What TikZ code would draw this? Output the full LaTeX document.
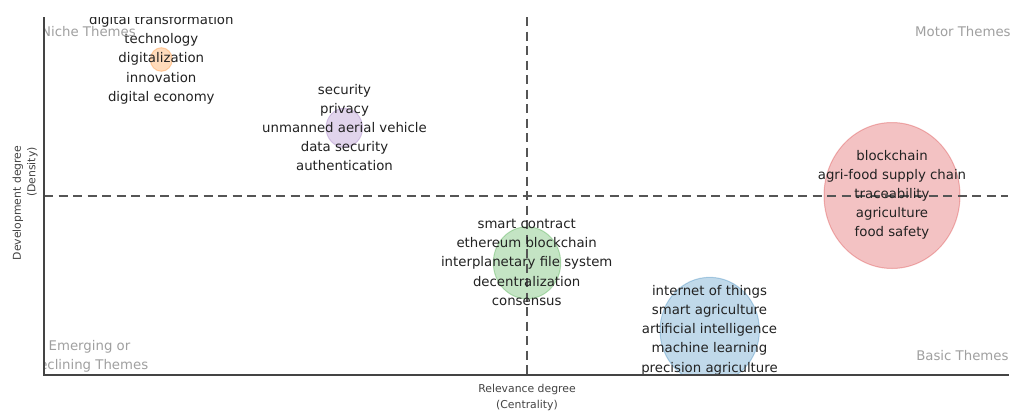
\documentclass[tikz,border=0pt]{standalone}
\usepackage{fontspec}
\setmainfont{DejaVu Sans}
\definecolor{cblue}{HTML}{1F77B4}
\definecolor{corange}{HTML}{FF7F0E}
\definecolor{cgreen}{HTML}{2CA02C}
\definecolor{cred}{HTML}{D62728}
\definecolor{cpurple}{HTML}{9467BD}
\definecolor{axisgray}{HTML}{444444}
\definecolor{dashgray}{HTML}{555555}
\definecolor{txt}{HTML}{222222}
\definecolor{quadgray}{HTML}{A0A0A0}
\begin{document}
\begin{tikzpicture}[x=1pt,y=-1pt,
  bubble/.style={fill opacity=0.28, draw opacity=0.3, line width=1pt},
  lbl/.style={font=\fontsize{13.3}{19.2}\selectfont, align=center, text=txt, inner sep=0pt},
  quad/.style={font=\fontsize{13.3}{19}\selectfont, align=center, text=quadgray, inner sep=0pt},
  axtitle/.style={font=\fontsize{10.85}{16}\selectfont, text=axisgray, inner sep=0pt},
  axisline/.style={draw=axisgray, line width=1.1pt},
  quadline/.style={draw=dashgray, line width=2pt, dash pattern=on 9pt off 5.5pt}]
\useasboundingbox (0,0) rectangle (1011,410);
\fill[white] (0,0) rectangle (1011,410);
\begin{scope}
  \clip (44,17) rectangle (1010,375);
  % bubbles
  \path[bubble, fill=corange, draw=corange] (161.3,59.5) ellipse [x radius=11, y radius=11.8];
  \path[bubble, fill=cpurple, draw=cpurple] (344.3,127.8) ellipse [x radius=18.3, y radius=19.5];
  \path[bubble, fill=cgreen, draw=cgreen] (527,262.8) ellipse [x radius=33.7, y radius=36];
  \path[bubble, fill=cblue, draw=cblue] (709.7,330.3) ellipse [x radius=49.7, y radius=53];
  \path[bubble, fill=cred, draw=cred] (892,195.5) ellipse [x radius=68, y radius=73];
  % quadrant dividers
  \coordinate (vtop) at (526.5,17);
  \coordinate (vbot) at (526.5,375);
  \coordinate (hleft) at (44,196);
  \coordinate (hright) at (1008,196);
  \draw[quadline] (vtop) -- (vbot);
  \draw[quadline] (hleft) -- (hright);
  % labels
  \node[lbl] (orangelbl) at (161.3,59.3) {digital transformation\\technology\\digitalization\\innovation\\digital economy};
  \node[lbl] (purplelbl) at (344.5,127.6) {security\\privacy\\unmanned aerial vehicle\\data security\\authentication};
  \node[lbl] (greenlbl) at (526.7,262.3) {smart contract\\ethereum blockchain\\interplanetary file system\\decentralization\\consensus};
  \node[lbl] (bluelbl) at (709.5,330) {internet of things\\smart agriculture\\artificial intelligence\\machine learning\\precision agriculture};
  \node[lbl] (redlbl) at (892,194.8) {blockchain\\agri-food supply chain\\traceability\\agriculture\\food safety};
  % quadrant names
  \node[quad, anchor=east] (niche) at (136,32) {Niche Themes};
  \node[quad, anchor=west] (motor) at (915,32) {Motor Themes};
  \node[quad, anchor=east] (basic) at (1008.7,356) {Basic Themes};
  \node[quad] (emerging) at (89.5,356.2) {Emerging or\\declining Themes};
\end{scope}
% axes
\coordinate (origin) at (44,375);
\coordinate (ytop) at (44,17);
\coordinate (xend) at (1008.7,375);
\draw[axisline] (ytop) -- (origin) -- (xend);
% axis titles
\node[axtitle] (xtitle1) at (527,389) {Relevance degree};
\node[axtitle] (xtitle2) at (527,405.5) {(Centrality)};
\node[axtitle, rotate=90] (ytitle1) at (18,203) {Development degree};
\node[axtitle, rotate=90] (ytitle2) at (32.5,172) {(Density)};
\end{tikzpicture}
\end{document}
